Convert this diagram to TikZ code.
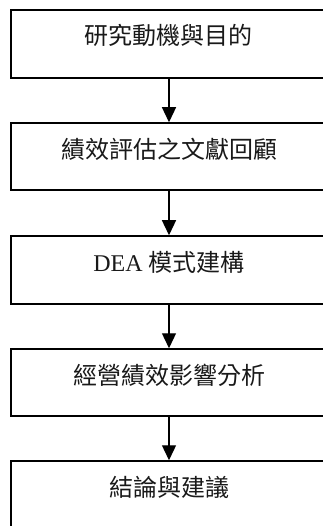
\documentclass[tikz,border=0pt]{standalone}
\usepackage{fontspec}
\setmainfont{Liberation Serif}
\newfontfamily\cjk{Noto Sans CJK TC}
\usetikzlibrary{arrows.meta}
\tikzset{
  box/.style={draw, line width=1.5pt, minimum width=316pt, inner sep=0pt},
  lbl/.style={anchor=base, inner sep=0pt, font=\fontsize{24}{28}\selectfont, text=black!90},
  flow/.style={line width=1.3pt, -{Triangle[width=14pt,length=15pt]}}
}
\begin{document}
\begin{tikzpicture}[x=1pt,y=-1pt]
\useasboundingbox (0,0) rectangle (323,526);
\clip (0,0) rectangle (323,526);
\node[box, minimum height=68pt] (b1) at (169,44) {};
\node[box, minimum height=67pt] (b2) at (169,156.5) {};
\node[box, minimum height=68pt] (b3) at (169,270) {};
\node[box, minimum height=67pt] (b4) at (169,382.5) {};
\node[box, minimum height=68pt] (b5) at (169,495) {};
\node[lbl] (t1) at (168,45) {\cjk 研究動機與目的};
\node[lbl] (t2) at (169,159) {\cjk 績效評估之文獻回顧};
\node[lbl] (t3) at (169,271) {DEA {\cjk 模式建構}};
\node[lbl] (t4) at (169,384) {\cjk 經營績效影響分析};
\node[lbl] (t5) at (169,496) {\cjk 結論與建議};
\draw[flow] (b1.south) -- (b2.north);
\draw[flow] (b2.south) -- (b3.north);
\draw[flow] (b3.south) -- (b4.north);
\draw[flow] (b4.south) -- (b5.north);
\end{tikzpicture}
\end{document}
